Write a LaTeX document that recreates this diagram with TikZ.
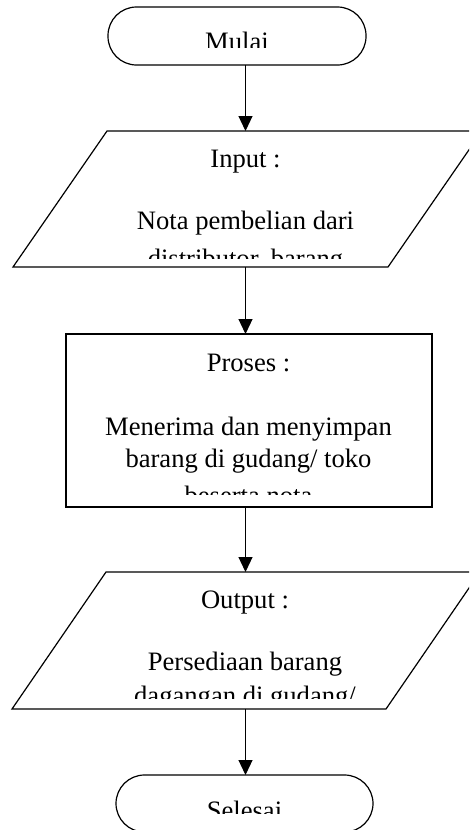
\documentclass[tikz,border=0pt]{standalone}
\usepackage{fontspec}
\setmainfont{Liberation Serif}
\usetikzlibrary{arrows.meta}

\tikzset{
  term/.style={draw, line width=1.2pt, rounded corners=28.5pt, inner sep=0pt, outer sep=0pt},
  frame/.style={inner sep=0pt, outer sep=0pt},
  procbox/.style={draw, line width=1.2pt, inner sep=0pt, outer sep=0pt},
  edge line/.style={line width=1.2pt, line join=miter},
  txt/.style={font=\fontsize{26.6}{32}\selectfont, anchor=base, inner sep=0pt},
  flow/.style={-{Triangle[length=15pt,width=14pt]}, line width=1.2pt}
}

\begin{document}
\begin{tikzpicture}[x=1pt,y=-1pt]
  \useasboundingbox (0,0) rectangle (469,830);
  \clip (0,0) rectangle (469,830);

  % Start
  \node[term, minimum width=258pt, minimum height=58pt] (mulai) at (237,36) {};
  \begin{scope}
    \clip (100,7) rectangle (370,47);
    \node[txt] (mulaiText) at (237,50.5) {Mulai};
  \end{scope}

  % Input
  \node[frame, minimum width=469pt, minimum height=136pt] (input) at (247.5,199) {};
  \draw[edge line] ([xshift=94pt]input.north west) -- (input.north east)
    -- ([xshift=-94pt]input.south east) -- (input.south west) -- cycle;
  \begin{scope}
    \clip (0,131) rectangle (469,258);
    \node[txt] (inputHead) at (245.5,167.3) {Input :};
    \node[txt] (inputLineA) at (245.5,229.3) {Nota pembelian dari};
    \node[txt] (inputLineB) at (245.5,267) {distributor, barang};
  \end{scope}

  % Process
  \node[procbox, minimum width=366pt, minimum height=173pt] (proses) at (249,420.5) {};
  \begin{scope}
    \clip (66,334) rectangle (432,494);
    \node[txt] (prosesHead) at (248.5,371.5) {Proses :};
    \node[txt] (prosesLineA) at (248.5,435) {Menerima dan menyimpan};
    \node[txt] (prosesLineB) at (248.5,467) {barang di gudang/ toko};
    \node[txt] (prosesLineC) at (248.5,504) {beserta nota};
  \end{scope}

  % Output
  \node[frame, minimum width=468pt, minimum height=137pt] (output) at (246,640.5) {};
  \draw[edge line] ([xshift=94pt]output.north west) -- (output.north east)
    -- ([xshift=-94pt]output.south east) -- (output.south west) -- cycle;
  \begin{scope}
    \clip (0,572) rectangle (469,698);
    \node[txt] (outputHead) at (245,608.3) {Output :};
    \node[txt] (outputLineA) at (245,670.7) {Persediaan barang};
    \node[txt] (outputLineB) at (245,704.5) {dagangan di gudang/};
  \end{scope}

  % End
  \node[term, minimum width=257pt, minimum height=57pt] (selesai) at (244.5,803.5) {};
  \begin{scope}
    \clip (100,775) rectangle (380,813);
    \node[txt] (selesaiText) at (244.5,819.5) {Selesai};
  \end{scope}

  % Flow lines
  \coordinate (axis) at (245.5,0);
  \draw[flow] (mulai.south -| axis) -- (input.north -| axis);
  \draw[flow] (input.south -| axis) -- (proses.north -| axis);
  \draw[flow] (proses.south -| axis) -- (output.north -| axis);
  \draw[flow] (output.south -| axis) -- (selesai.north -| axis);
\end{tikzpicture}
\end{document}
